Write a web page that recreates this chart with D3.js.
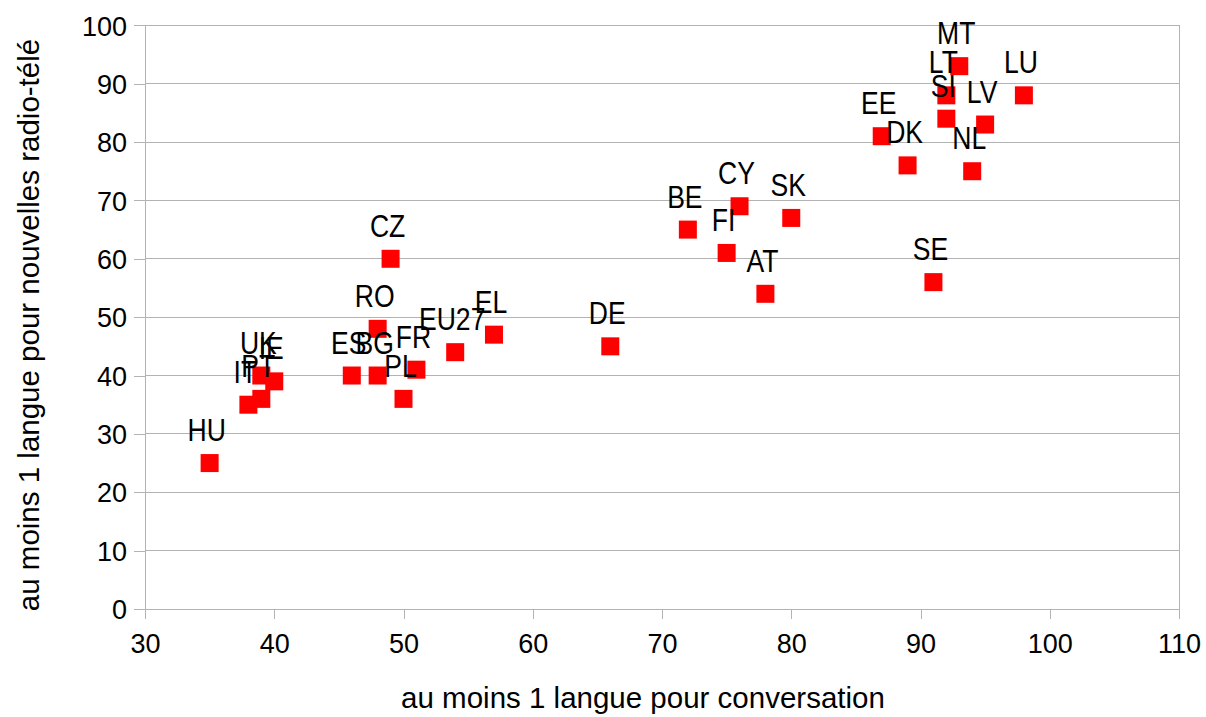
<!DOCTYPE html>
<html>
<head>
<meta charset="utf-8">
<script src="https://cdn.jsdelivr.net/npm/d3@7"></script>
<style>
  html, body { margin: 0; padding: 0; background: #fff; }
  svg text { font-family: "Liberation Sans", Arial, sans-serif; fill: #000; }
</style>
</head>
<body>
<svg id="chart" width="1206" height="717"></svg>
<script>
// ---- data ----
const countries = ["HU","IT","PT","UK","IE","ES","BG","RO","CZ","PL","FR","EU27","EL","DE","BE","FI","CY","AT","SK","SE","EE","DK","SI","LT","MT","LV","NL","LU"];
const conversation = [35,38,39,39,40,46,48,48,49,50,51,54,57,66,72,75,76,78,80,91,87,89,92,92,93,95,94,98];
const newsRadioTV  = [25,35,36,40,39,40,40,48,60,36,41,44,47,45,65,61,69,54,67,56,81,76,84,88,93,83,75,88];
const xTicks = [30,40,50,60,70,80,90,100,110];
const yTicks = [0,10,20,30,40,50,60,70,80,90,100];
const xTitle = "au moins 1 langue pour conversation";
const yTitle = "au moins 1 langue pour nouvelles radio-télé";

// ---- layout ----
const plotLeft = 145, plotRight = 1179, plotTop = 25.3, plotBottom = 609;
const svg = d3.select("#chart");
const x = d3.scaleLinear().domain([30,110]).range([plotLeft, plotRight]);
const y = d3.scaleLinear().domain([0,100]).range([plotBottom, plotTop]);
const grey = "#b3b3b3";

// gridlines
svg.append("g").selectAll("line").data(yTicks).join("line")
  .attr("x1", plotLeft).attr("x2", plotRight)
  .attr("y1", d => y(d)).attr("y2", d => y(d))
  .attr("stroke", grey).attr("stroke-width", 1).attr("shape-rendering","crispEdges");

// right border
svg.append("line").attr("x1", plotRight).attr("x2", plotRight).attr("y1", plotTop).attr("y2", plotBottom)
  .attr("stroke", grey).attr("shape-rendering","crispEdges");

// x axis
const gx = svg.append("g").attr("transform", `translate(0,${plotBottom})`)
  .call(d3.axisBottom(x).tickValues(xTicks).tickSize(10).tickFormat(d3.format("d")));
gx.select(".domain").attr("stroke", grey).attr("shape-rendering","crispEdges");
gx.selectAll(".tick line").attr("stroke", grey).attr("shape-rendering","crispEdges");
gx.selectAll(".tick text").attr("y", 44).attr("dy", null)
  .style("font-size","27px").style("font-family","Liberation Sans, Arial, sans-serif").attr("fill","#000");

// y axis
const gy = svg.append("g").attr("transform", `translate(${plotLeft},0)`)
  .call(d3.axisLeft(y).tickValues(yTicks).tickSize(11).tickFormat(d3.format("d")));
gy.select(".domain").attr("stroke", grey).attr("shape-rendering","crispEdges");
gy.selectAll(".tick line").attr("stroke", grey).attr("shape-rendering","crispEdges");
gy.selectAll(".tick text").attr("x", -18).attr("dy", "0.36em")
  .style("font-size","27px").style("font-family","Liberation Sans, Arial, sans-serif").attr("fill","#000");
svg.append("line").attr("x1", plotLeft).attr("x2", plotLeft).attr("y1", plotBottom).attr("y2", plotBottom + 10)
  .attr("stroke", grey).attr("shape-rendering","crispEdges");

// points
const data = countries.map((c,i) => ({c, x: conversation[i], y: newsRadioTV[i]}));
const ms = 18;
svg.append("g").selectAll("rect").data(data).join("rect")
  .attr("x", d => x(d.x) - ms/2).attr("y", d => y(d.y) - ms/2)
  .attr("width", ms).attr("height", ms).attr("fill", "#ff0000");

// labels
svg.append("g").selectAll("text").data(data).join("text")
  .attr("transform", d => `translate(${x(d.x) - 3},${y(d.y) - 22}) scale(0.83,1)`)
  .attr("text-anchor", "middle").style("font-size","32px")
  .text(d => d.c);

// axis titles
svg.append("text").attr("x", 643).attr("y", 708).attr("text-anchor","middle")
  .style("font-size","29.5px").text(xTitle);
svg.append("text").attr("transform", "translate(39,325) rotate(-90)").attr("text-anchor","middle")
  .style("font-size","29.5px").text(yTitle);
</script>
</body>
</html>
